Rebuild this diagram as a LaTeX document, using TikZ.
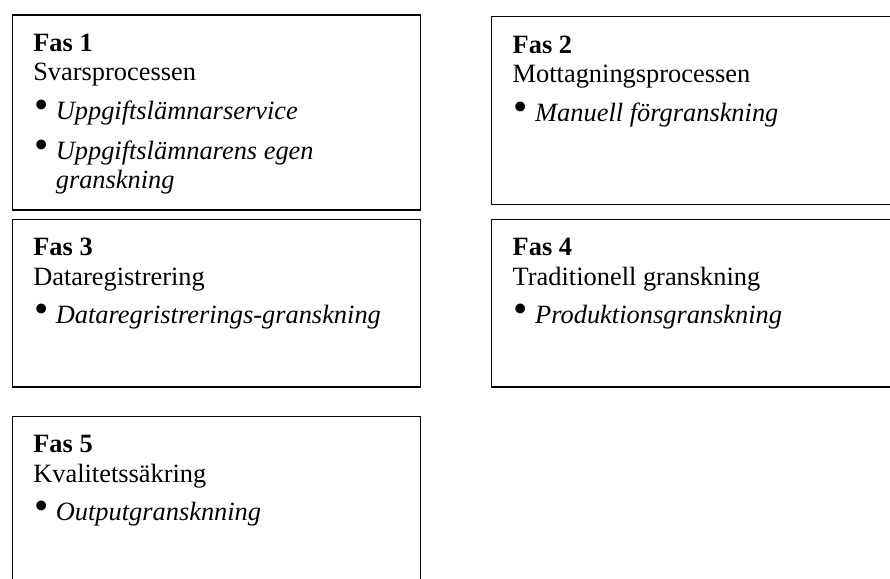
\documentclass[tikz,border=0pt]{standalone}
\usepackage{fontspec}
\usepackage{graphicx}
\setmainfont{Liberation Serif}
\usetikzlibrary{positioning}

\tikzset{
  fasbox/.style={draw, line width=1.2pt, anchor=north west, inner sep=0pt, outer sep=0pt, minimum width=408.4},
  fastext/.style={anchor=north west, inner sep=0pt, outer sep=0pt, align=left,
    font=\fontsize{26.4}{29.5}\selectfont},
}
\newcommand{\fasitem}[1]{\makebox[22.5pt][l]{\hspace*{1pt}\raisebox{1pt}{\scalebox{1.55}{\textbullet}}}\textit{#1}}

\begin{document}
\begin{tikzpicture}[x=1pt,y=-1pt]
  \useasboundingbox (0,0) rectangle (890,578);
  \clip (0,0) rectangle (890,578);
  \def\lc{12.3}   % left column
  \def\rc{491.7}  % right column
  \def\pad{(21,19)} % text offset in a box
  \node[fasbox, minimum height=195]   (box1) at (\lc,15)    {};
  \node[fasbox, minimum height=188]   (box2) at (\rc,16.7)  {};
  \node[fasbox, minimum height=167.7] (box3) at (\lc,219.3) {};
  \node[fasbox, minimum height=167.7] (box4) at (\rc,219.3) {};
  \node[fasbox, minimum height=200]   (box5) at (\lc,416.7) {};
  \node[fastext] (fas1) at ([shift=\pad]box1.north west)
    {{\bfseries Fas 1}\\ Svarsprocessen\\[9pt]
     \fasitem{Uppgiftslämnarservice}\\[10.5pt]
     \fasitem{Uppgiftslämnarens egen}\\ \hspace*{22.5pt}\textit{granskning}};
  \node[fastext] (fas2) at ([shift=\pad]box2.north west)
    {{\bfseries Fas 2}\\ Mottagningsprocessen\\[9pt]
     \fasitem{Manuell förgranskning}};
  \node[fastext] (fas3) at ([shift=\pad]box3.north west)
    {{\bfseries Fas 3}\\ Dataregistrering\\[9pt]
     \fasitem{Dataregristrerings-granskning}};
  \node[fastext] (fas4) at ([shift=\pad]box4.north west)
    {{\bfseries Fas 4}\\ Traditionell granskning\\[9pt]
     \fasitem{Produktionsgranskning}};
  \node[fastext] (fas5) at ([shift=\pad]box5.north west)
    {{\bfseries Fas 5}\\ Kvalitetssäkring\\[9pt]
     \fasitem{Outputgransknning}};
\end{tikzpicture}
\end{document}
